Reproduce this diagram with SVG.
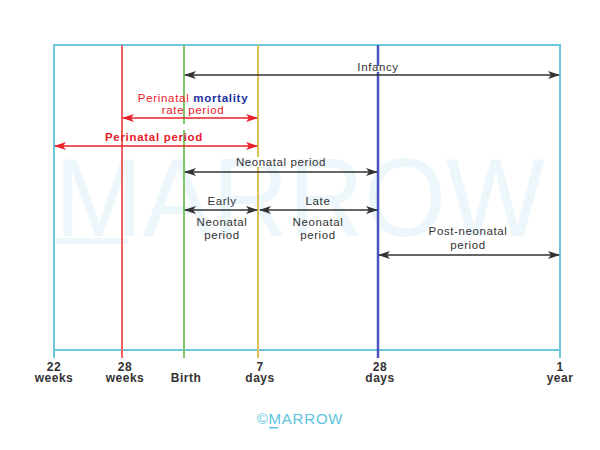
<svg xmlns="http://www.w3.org/2000/svg" width="600" height="450" viewBox="0 0 600 450">
<style>
text{font-family:"Liberation Sans",Arial,sans-serif;}
.lbl{font-size:11.5px;letter-spacing:0.6px;fill:#333;text-anchor:middle;}
.red{font-size:11.5px;letter-spacing:0.7px;fill:#e8202a;text-anchor:middle;}
.ax{font-size:12px;letter-spacing:0.5px;font-weight:bold;fill:#333;text-anchor:middle;}
.a{stroke:#333;stroke-width:1.5;fill:none;marker-start:url(#ka);marker-end:url(#ka);}
.ar{stroke:#e8202a;stroke-width:1.5;fill:none;marker-start:url(#kr);marker-end:url(#kr);}
.frame{stroke:#6cc6dd;stroke-width:2;fill:none;}
</style>
<defs>
<marker id="ka" viewBox="0 0 12 8" refX="11" refY="4" markerWidth="12" markerHeight="8" markerUnits="userSpaceOnUse" orient="auto-start-reverse"><path d="M0,0 L12,4 L0,8 L3,4 Z" fill="#333"/></marker>
<marker id="kr" viewBox="0 0 12 8" refX="11" refY="4" markerWidth="12" markerHeight="8" markerUnits="userSpaceOnUse" orient="auto-start-reverse"><path d="M0,0 L12,4 L0,8 L3,4 Z" fill="#e8202a"/></marker>
</defs>
<rect width="600" height="450" fill="#fff"/>
<g id="watermark">
<text x="300" y="236" font-size="112" fill="#ecf6fb" text-anchor="middle" textLength="490" lengthAdjust="spacingAndGlyphs">MARROW</text>
<rect x="56" y="238" width="72" height="6" fill="#ecf6fb"/>
</g>
<g id="frame">
<path class="frame" d="M54,358 V45 H560 V358 M54,350 H560"/>
</g>
<g id="timelines">
<line x1="122" y1="45" x2="122" y2="358" stroke="#f06262" stroke-width="2"/>
<line x1="184" y1="45" x2="184" y2="358" stroke="#80c46c" stroke-width="2"/>
<line x1="258" y1="45" x2="258" y2="358" stroke="#dcc255" stroke-width="2"/>
<line x1="378" y1="45" x2="378" y2="358" stroke="#4a55c0" stroke-width="2.5"/>
<rect x="374" y="66" width="8" height="6" fill="#fff"/>
<rect x="180" y="124" width="8" height="6" fill="#fff"/>
<rect x="254" y="157" width="8" height="10" fill="#fff"/>
</g>
<g id="connectors">
<line class="a" x1="185" y1="75" x2="559" y2="75"/>
<line class="ar" x1="123" y1="118" x2="257" y2="118"/>
<line class="ar" x1="55" y1="146" x2="257" y2="146"/>
<line class="a" x1="185" y1="172" x2="377" y2="172"/>
<line class="a" x1="185" y1="210" x2="257" y2="210"/>
<line class="a" x1="260" y1="210" x2="377" y2="210"/>
<line class="a" x1="379" y1="255" x2="559" y2="255"/>
</g>
<g id="infancy"><text class="lbl" x="378" y="71">Infancy</text></g>
<g id="pmr"><text class="red" x="193" y="102">Perinatal <tspan font-weight="bold" fill="#1c2fa0">mortality</tspan></text>
<text class="red" x="193" y="114">rate period</text></g>
<g id="perinatal"><text class="red" x="154" y="141" font-weight="bold" font-size="12">Perinatal period</text></g>
<g id="neonatal"><text class="lbl" x="281" y="166">Neonatal period</text></g>
<g id="early"><text class="lbl" x="222" y="205">Early</text><text class="lbl" x="222" y="226">Neonatal</text><text class="lbl" x="222" y="239">period</text></g>
<g id="late"><text class="lbl" x="318" y="205">Late</text><text class="lbl" x="318" y="226">Neonatal</text><text class="lbl" x="318" y="239">period</text></g>
<g id="post"><text class="lbl" x="468" y="235">Post-neonatal</text><text class="lbl" x="468" y="249">period</text></g>
<g id="axis">
<text class="ax" x="54" y="371">22</text><text class="ax" x="54" y="382">weeks</text>
<text class="ax" x="125" y="371">28</text><text class="ax" x="125" y="382">weeks</text>
<text class="ax" x="186" y="382">Birth</text>
<text class="ax" x="260" y="371">7</text><text class="ax" x="260" y="382">days</text>
<text class="ax" x="380" y="371">28</text><text class="ax" x="380" y="382">days</text>
<text class="ax" x="560" y="371">1</text><text class="ax" x="560" y="382">year</text>
</g>
<g id="logo">
<text x="300" y="424" font-size="15" letter-spacing="0.8" fill="#5cc4de" text-anchor="middle">©MARROW</text>
<rect x="269" y="427" width="9" height="1.5" fill="#5cc4de"/>
</g>
</svg>
